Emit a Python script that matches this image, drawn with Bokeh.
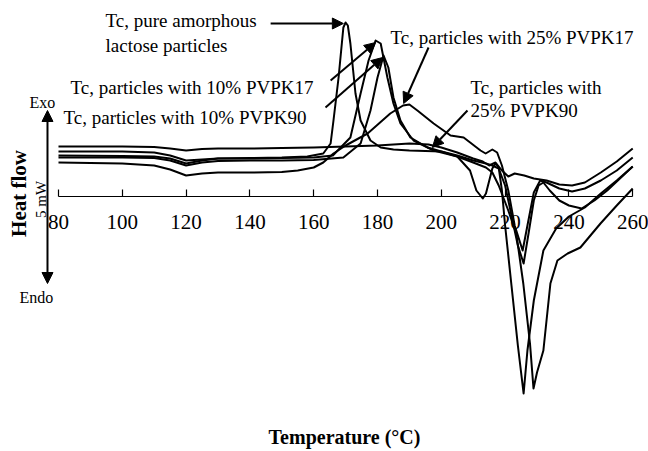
from bokeh.plotting import figure
from bokeh.models import Arrow, NormalHead, FixedTicker, Range1d
from bokeh.core.properties import value
from bokeh.embed import file_html
from bokeh.resources import INLINE

# Temperature (deg C) and heat flow (arbitrary mW-scale, exo up) for each sample
t_pure = [80,100,110,115,120,125,130,140,150,158,163,165.3,166.2,167.8,169.3,170,170.7,171.5,173.1,174.7,177.8,181,185,190,200,205,209,211,213,214,216,217,218,219,220,222,224,225.8,227,229,232,236,240,245,250,255,260]
hf_pure = [4.1,4.05,4.0,3.8,3.3,3.6,3.8,3.85,3.9,4.0,4.3,5.3,7.6,11.9,16.9,17.4,17.1,15.3,10.3,7.6,5.6,4.9,4.7,4.6,4.5,4.0,2.6,0.6,-0.2,0.3,2.8,3.3,2.9,0.6,-2.9,-8.9,-14.9,-19.7,-15.4,-10.4,-5.4,-3.2,-2.0,-1.1,0.3,1.6,3.0]

t_k17_10 = [80,100,110,115,120,125,130,140,150,160,166,171.5,174.7,177.2,179.4,181,183.1,185,187.2,191.3,197.6,205,210,214,216,218,221,223.5,225.7,227.8,228.9,230,232,234.2,236.4,239.6,243.6,249.9,255,260]
hf_k17_10 = [4.5,4.5,4.4,4.1,3.6,3.7,3.8,3.8,3.85,3.9,4.1,5.9,10.3,13.6,15.6,15.3,11.9,9.3,7.3,5.6,4.6,4.0,3.4,2.9,2.4,1.1,-1.4,-3.7,-8.7,-14.7,-19.2,-17.6,-15.4,-8.7,-6.4,-5.7,-5.1,-2.7,-0.9,0.8]

t_k90_10 = [80,100,110,115,120,125,130,140,150,160,169.3,174.7,177.8,180,181.9,183.4,185,187.2,190.3,195.7,200,205,210,214,216,218,220,222,224,225.8,227.5,229,230.5,232,234,237,240,244,248,252,256,260]
hf_k90_10 = [3.9,3.9,3.85,3.6,3.1,3.4,3.55,3.6,3.6,3.65,3.9,5.3,8.6,11.9,14.1,12.9,9.9,7.6,5.9,4.9,4.5,4.1,3.6,3.3,3.1,2.8,1.1,-1.9,-4.9,-6.7,-3.4,-0.4,1.1,1.4,0.6,-0.4,-0.9,-1.2,-0.4,0.6,1.8,3.0]

t_k17_25 = [80,100,110,115,120,125,130,140,150,155,160,163,166.2,170,176.9,184,188,190,192.5,197.6,202.9,207,212.3,213.9,216,217.5,219,221,223,225.5,227,229,231,233,237,241,245,250,255,260]
hf_k17_25 = [3.4,3.3,3.1,2.7,2.1,2.3,2.4,2.4,2.45,2.6,2.9,3.4,4.3,5.1,6.3,8.3,9.1,9.2,8.6,7.3,6.1,5.9,4.6,4.3,4.7,4.4,3.1,0.6,-2.9,-5.4,-2.9,0.4,1.6,1.4,0.8,0.5,0.8,1.6,2.6,3.9]

t_k90_25 = [80,100,110,115,120,125,130,140,150,160,170,180,190,196,200,205,210,213,215,217,219,221,223,226,229,233,237,241,245,250,255,260]
hf_k90_25 = [5.0,5.0,4.95,4.8,4.6,4.75,4.8,4.8,4.85,4.9,5.0,5.1,5.3,5.2,4.9,4.4,3.8,3.5,3.1,3.4,2.6,2.0,2.3,2.1,1.8,1.6,1.2,1.1,1.4,2.4,3.5,4.8]

x_ticks = [80, 100, 120, 140, 160, 180, 200, 220, 240, 260]

SERIF = "Liberation Serif"

p = figure(width=648, height=451, output_backend="svg", toolbar_location=None,
           x_range=Range1d(61.82, 264.95), y_range=Range1d(-25.5, 19.6),
           y_axis_location=None, min_border=0)
p.outline_line_color = None
p.grid.visible = False
p.background_fill_color = "white"
p.border_fill_color = "white"

for t, hf in [(t_pure, hf_pure), (t_k17_10, hf_k17_10), (t_k90_10, hf_k90_10),
              (t_k17_25, hf_k17_25), (t_k90_25, hf_k90_25)]:
    p.line(t, hf, line_color="black", line_width=2, line_join="round")

ax = p.xaxis[0]
ax.fixed_location = 0
ax.bounds = (80, 260)
ax.ticker = FixedTicker(ticks=x_ticks)
ax.major_tick_in = 7
ax.major_tick_out = 0
ax.minor_tick_line_color = None
ax.axis_line_color = "black"
ax.axis_line_width = 1.2
ax.major_tick_line_width = 1.2
ax.major_label_text_font = SERIF
ax.major_label_text_font_size = "21px"
ax.major_label_text_color = "black"
ax.major_label_standoff = 18

def label(x, y, s, size, bold=False, align="left", angle=0):
    p.text(x=[x], y=[y], text=[s], text_font=value(SERIF), text_font_size=size,
           text_font_style="bold" if bold else "normal", text_align=align,
           text_baseline="middle", text_color="black", angle=angle)

def arrow(x0, y0, x1, y1, start=False):
    p.add_layout(Arrow(x_start=x0, y_start=y0, x_end=x1, y_end=y1, line_width=2,
                       line_color="black",
                       end=NormalHead(size=11, fill_color="black", line_color="black"),
                       start=NormalHead(size=11, fill_color="black", line_color="black") if start else None))

# annotations
label(94.73, 17.6, "Tc, pure amorphous", "19px")
label(94.73, 15.1, "lactose particles", "19px")
arrow(146.5, 17.3, 169.3, 17.3)

label(83.76, 10.9, "Tc, particles with 10% PVPK17", "19px")
arrow(165.3, 11.6, 179.4, 15.4)

label(81.57, 7.9, "Tc, particles with 10% PVPK90", "19px")
arrow(163.7, 8.9, 181.6, 13.9)

label(184.1, 15.9, "Tc, particles with 25% PVPK17", "19px")
arrow(196.0, 14.9, 188.2, 9.3)

label(209.15, 10.9, "Tc, particles with", "19px")
label(209.15, 8.6, "25% PVPK90", "19px")
arrow(208.2, 8.6, 197.2, 4.9)

# heat flow direction indicator
arrow(76.55, -8.7, 76.55, 8.6, start=True)
label(74.98, 9.4, "Exo", "16px", align="center")
label(73.1, -10.1, "Endo", "16px", align="center")
label(67.77, 0.3, "Heat flow", "21px", bold=True, align="center", angle=1.5708)
label(74.36, -0.3, "5 mW", "15px", align="center", angle=1.5708)

label(169.66, -24.0, "Temperature (°C)", "20px", bold=True, align="center")

open("out.html", "w").write(file_html(p, INLINE))
